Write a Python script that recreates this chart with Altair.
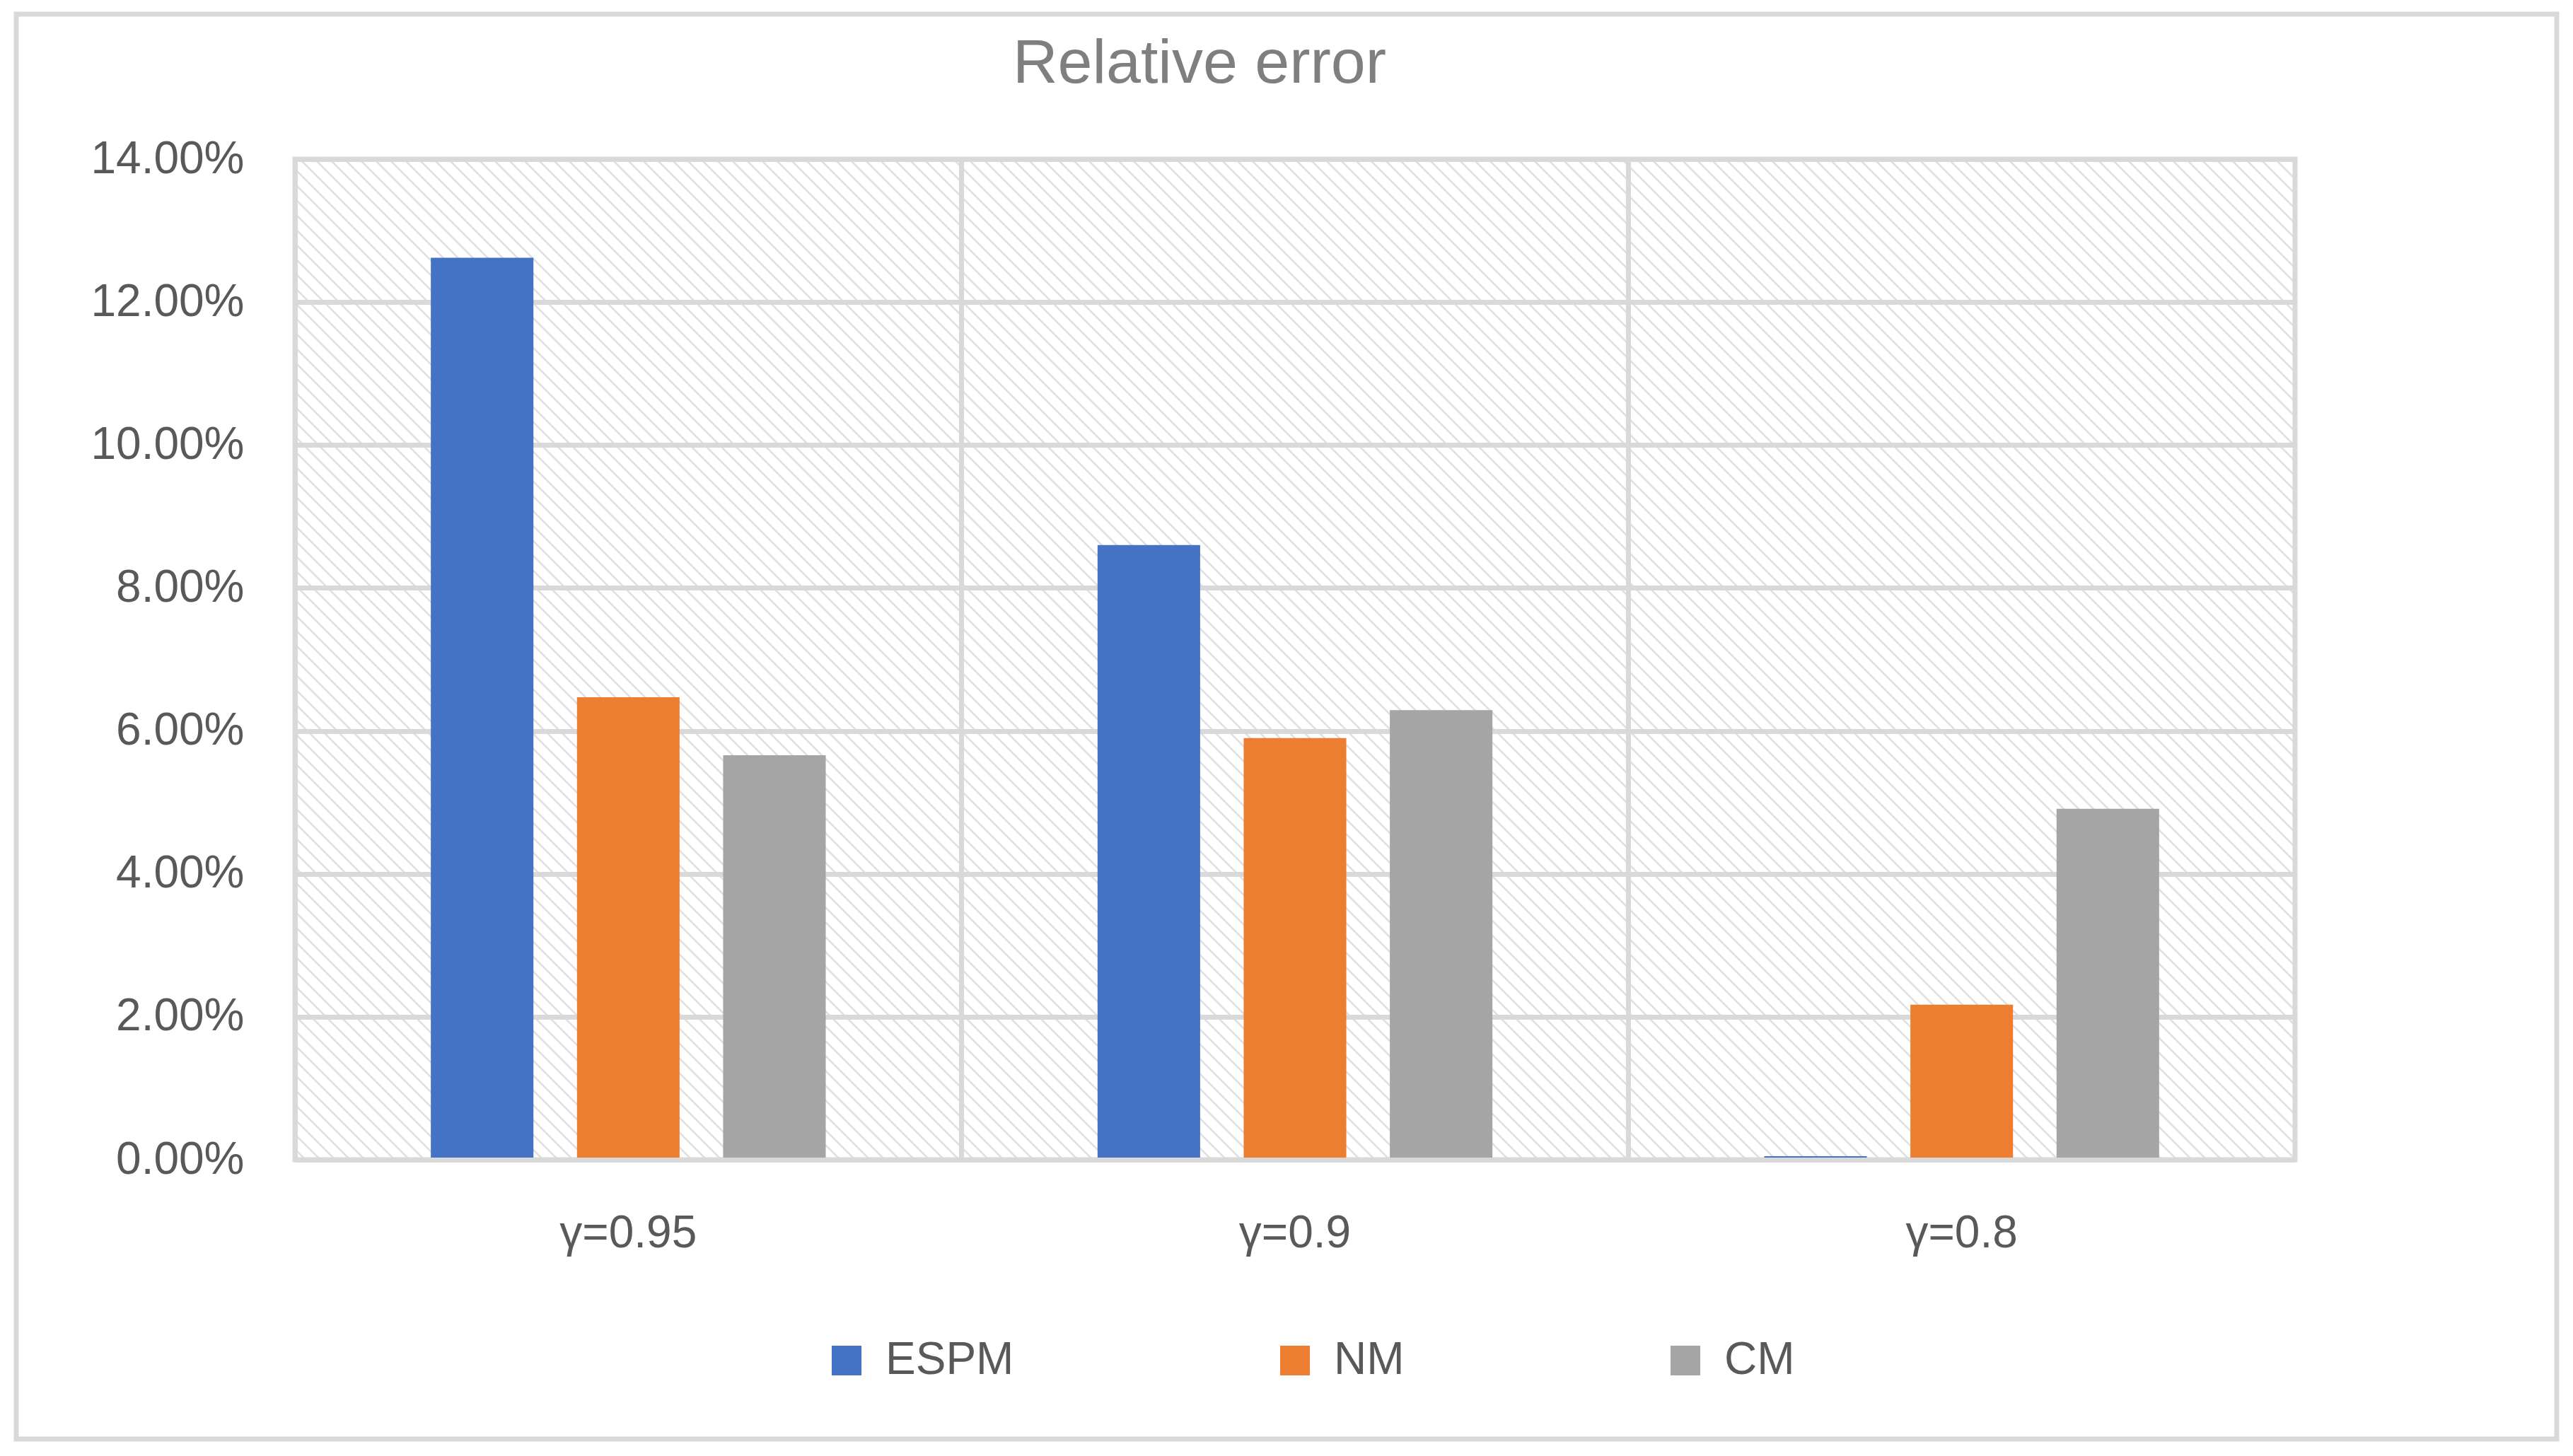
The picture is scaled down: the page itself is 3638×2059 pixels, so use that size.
import math
import altair as alt
import pandas as pd

# ---------------- data ----------------
categories = ["γ=0.95", "γ=0.9", "γ=0.8"]
series = ["ESPM", "NM", "CM"]
espm = [0.1262, 0.0860, 0.0005]
nm = [0.0647, 0.0590, 0.0217]
cm = [0.0566, 0.0629, 0.0491]
colors = ["#4472C4", "#ED7D31", "#A5A5A5"]
y_ticks = [0.0, 0.02, 0.04, 0.06, 0.08, 0.10, 0.12, 0.14]
title_text = "Relative error"

rows = []
for i, c in enumerate(categories):
    for s, vals in zip(series, [espm, nm, cm]):
        rows.append({"category": c, "series": s, "value": vals[i]})
df = pd.DataFrame(rows)

# ---------------- layout / style ----------------
W, H = 2828, 1415
FONT = "Liberation Sans"
GRID = "#D9D9D9"
TXT = "#595959"

# diagonal hatch (Excel "wide downward diagonal") as a striped gradient
r = H / W
lam = (1 + r) / (1 + r * r)
period_t = 21.0 / (W + H)
hw = 3.0 / (W + H)
phase_t = (7 + H) / (W + H) % period_t
clear = "rgba(217,217,217,0)"
stops = [alt.GradientStop(color=clear, offset=0)]
k = 0
last = 0.0
while True:
    c = phase_t + k * period_t
    if c - hw > 1:
        break
    for off, col in ((c - hw, clear), (c, GRID), (c + hw, clear)):
        if 0 < off < 1 and off > last:
            stops.append(alt.GradientStop(color=col, offset=round(off, 6)))
            last = off
    k += 1
stops.append(alt.GradientStop(color=clear, offset=1))
hatch = alt.LinearGradient(gradient="linear", stops=stops,
                           x1=0, y1=1, x2=lam, y2=1 - lam * r)

one = pd.DataFrame({"k": [0]})

frame = alt.Chart(one).mark_rect(
    fill="white", fillOpacity=0, stroke=GRID, strokeWidth=7
).encode(
    x=alt.value(-394), x2=alt.value(W + 370),
    y=alt.value(-205), y2=alt.value(H + 395),
)

bg = alt.Chart(one).mark_rect(fill=hatch, strokeWidth=0).encode(
    x=alt.value(0), x2=alt.value(W), y=alt.value(0), y2=alt.value(H)
)

title = alt.Chart(one).mark_text(
    font=FONT, fontSize=88, color="#7F7F7F", align="center",
    baseline="alphabetic",
).encode(x=alt.value(1279), y=alt.value(-108), text=alt.value(title_text))

bars = alt.Chart(df).mark_bar(strokeWidth=0).encode(
    x=alt.X(
        "category:N", sort=categories,
        scale=alt.Scale(paddingInner=0, paddingOuter=0),
        axis=alt.Axis(
            title=None, labelAngle=0, grid=True, gridColor=GRID, gridWidth=7,
            bandPosition=0, domain=True, domainColor=GRID, domainWidth=7,
            ticks=False, tickSize=0, labelPadding=123, labelBaseline="alphabetic",
            labelFont=FONT, labelFontSize=64, labelColor=TXT, labelLimit=0,
            zindex=1,
        ),
    ),
    xOffset=alt.XOffset(
        "series:N", sort=series,
        scale=alt.Scale(paddingInner=0.298, paddingOuter=0.93),
    ),
    y=alt.Y(
        "value:Q",
        scale=alt.Scale(domain=[0, 0.14], nice=False),
        axis=alt.Axis(
            title=None, values=y_ticks, format=".2%", grid=True,
            gridColor=GRID, gridWidth=7, domain=False, ticks=False, tickSize=0,
            labelPadding=72, labelFont=FONT, labelFontSize=64, labelColor=TXT,
            labelLimit=0,
        ),
    ),
    color=alt.Color(
        "series:N", sort=series,
        scale=alt.Scale(domain=series, range=colors),
        legend=alt.Legend(
            title=None, orient="none", legendX=748, legendY=1667,
            direction="horizontal", symbolType="square", symbolSize=1764,
            symbolStrokeWidth=0, labelFont=FONT, labelFontSize=64,
            labelColor=TXT, labelOffset=23, columnPadding=365, padding=0,
            labelLimit=0,
        ),
    ),
)

chart = alt.layer(frame, bg, title, bars).properties(
    width=W,
    height=H,
    autosize=alt.AutoSizeParams(type="none"),
    padding={"left": 409, "top": 217, "right": 380, "bottom": 405},
    background="white",
).configure_view(stroke=GRID, strokeWidth=7, fill="white")

chart.save("out.html", embed_options={"renderer": "svg", "actions": False})
